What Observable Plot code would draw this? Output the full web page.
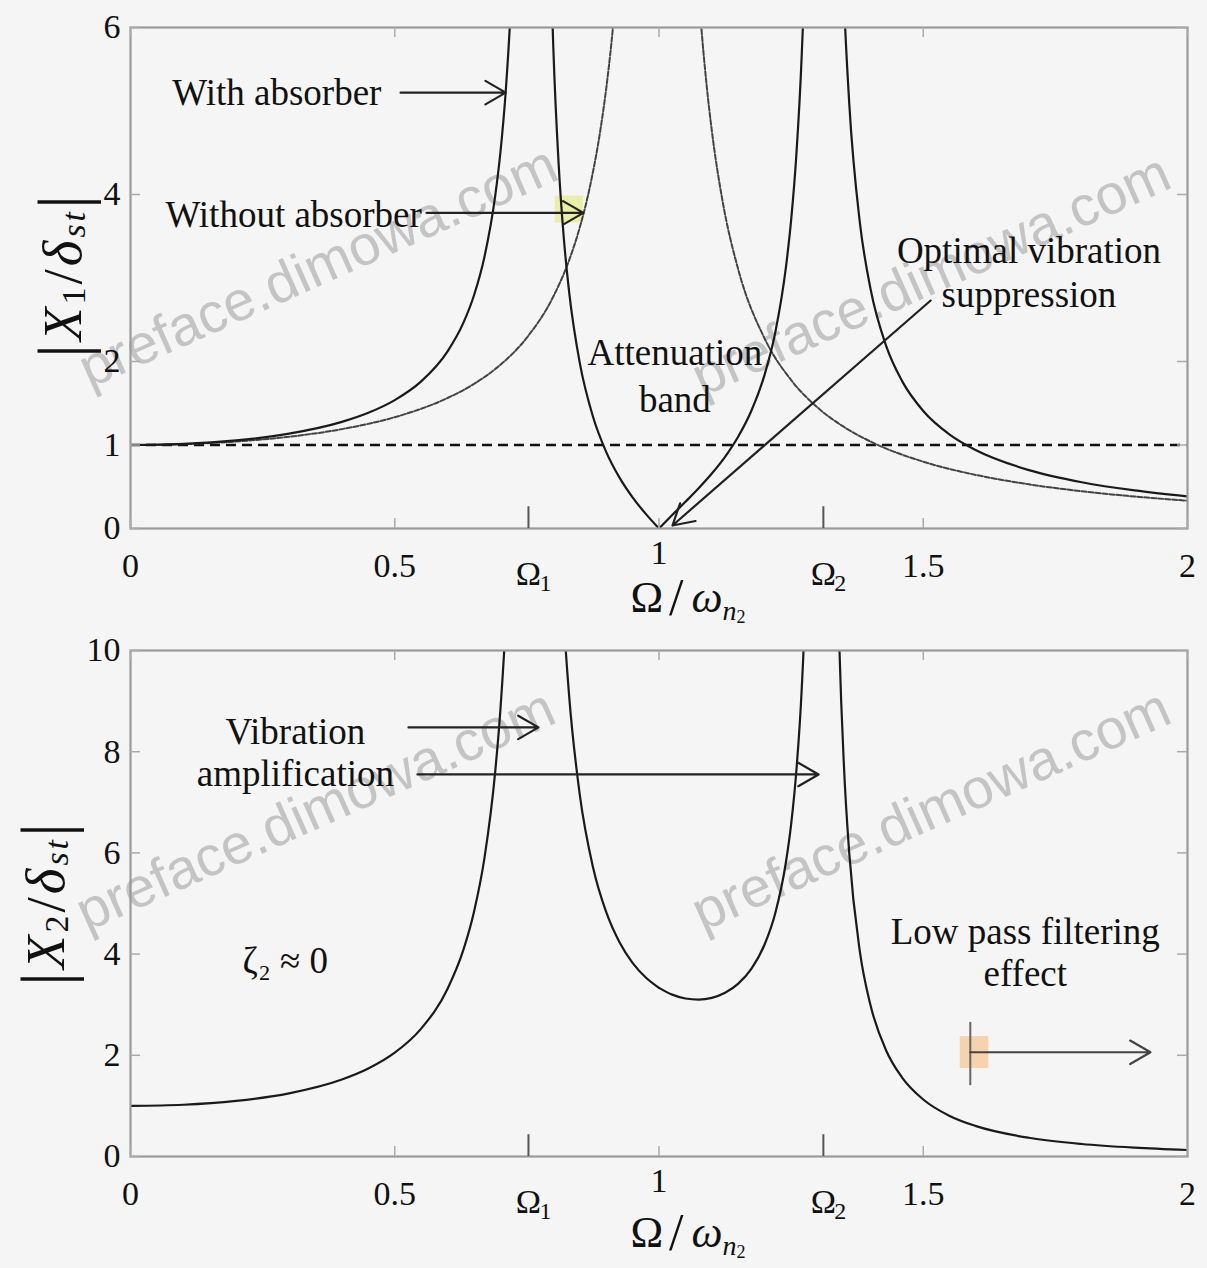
<!DOCTYPE html>
<html><head><meta charset="utf-8">
<script src="https://cdn.jsdelivr.net/npm/d3@7"></script>
<script src="https://cdn.jsdelivr.net/npm/@observablehq/plot@0.6"></script>
<style>
html,body{margin:0;padding:0;background:#f5f5f5;}
#chart svg{display:block;}
</style></head><body><div id="chart"></div>
<script>
// ---------- data ----------
// frequency ratio samples (Ω/ωn2) for the three branches of the absorber response
const xLeft  = [0, 0.1, 0.2, 0.3, 0.4, 0.45, 0.5, 0.55, 0.6, 0.63, 0.65, 0.67, 0.69, 0.70, 0.71, 0.72, 0.73, 0.74];
const xMidA  = [0.78, 0.79, 0.80, 0.81, 0.82, 0.83, 0.85, 0.875, 0.9, 0.925, 0.95, 0.975, 1.0];
const xMidB  = [1.0, 1.025, 1.05, 1.075, 1.1, 1.125, 1.15, 1.175, 1.2, 1.22, 1.24, 1.25, 1.26, 1.27, 1.28, 1.29];
const xRight = [1.33, 1.34, 1.35, 1.36, 1.38, 1.40, 1.43, 1.46, 1.5, 1.55, 1.6, 1.7, 1.8, 1.9, 2.0];

// |X1/δst| with absorber
const x1Left  = [1, 1.013, 1.055, 1.136, 1.277, 1.386, 1.538, 1.762, 2.122, 2.465, 2.793, 3.260, 3.980, 4.509, 5.237, 6.305, 8.01, 11.2];
const x1MidA  = [13.42, 8.18, 5.77, 4.378, 3.470, 2.831, 1.986, 1.341, 0.918, 0.612, 0.373, 0.175, 0];
const x1MidB  = [0, 0.162, 0.320, 0.483, 0.659, 0.859, 1.102, 1.413, 1.846, 2.348, 3.121, 3.692, 4.485, 5.66, 7.603, 11.41];
const x1Right = [12.70, 8.437, 6.339, 5.089, 3.667, 2.878, 2.184, 1.765, 1.408, 1.125, 0.937, 0.699, 0.554, 0.456, 0.385];

// |X1/δst| without absorber
const xNoL = [0, 0.1, 0.2, 0.3, 0.4, 0.5, 0.55, 0.6, 0.65, 0.7, 0.75, 0.8, 0.83, 0.85, 0.87, 0.89, 0.9, 0.91, 0.92, 0.93];
const noL  = [1, 1.010, 1.042, 1.099, 1.190, 1.333, 1.434, 1.563, 1.732, 1.961, 2.286, 2.778, 3.214, 3.604, 4.114, 4.810, 5.263, 5.817, 6.510, 7.40];
const xNoR = [1.07, 1.08, 1.09, 1.1, 1.12, 1.15, 1.2, 1.25, 1.3, 1.35, 1.4, 1.5, 1.6, 1.7, 1.8, 1.9, 2.0];
const noR  = [6.901, 6.010, 5.316, 4.762, 3.931, 3.101, 2.273, 1.778, 1.449, 1.216, 1.042, 0.8, 0.641, 0.529, 0.446, 0.383, 0.333];

// |X2/δst|
const x2Left  = [1, 1.023, 1.099, 1.248, 1.521, 1.738, 2.051, 2.527, 3.316, 4.087, 4.837, 5.916, 7.596, 8.842, 10.56, 13.09, 17.15, 24.76];
const x2MidA  = [34.3, 21.77, 16.03, 12.73, 10.59, 9.10, 7.156, 5.722, 4.833, 4.240, 3.828, 3.537, 3.333];
const x2MidB  = [3.333, 3.199, 3.123, 3.101, 3.136, 3.235, 3.416, 3.713, 4.195, 4.808, 5.805, 6.564, 7.633, 9.23, 11.91, 17.18];
const x2Right = [16.52, 10.60, 7.707, 5.990, 4.055, 2.998, 2.091, 1.560, 1.127, 0.802, 0.600, 0.370, 0.247, 0.175, 0.128];

// ticks
const xTickValues = [0, 0.5, 1, 1.5, 2];
const xTickLabels = ["0", "0.5", "1", "1.5", "2"];
const omegaTicks  = [0.753, 1.311];
const omegaBase   = ["Ω", "Ω"];
const omegaSubs   = ["1", "2"];
const yTicksTop   = [0, 1, 2, 4, 6];
const yTicksBot   = [0, 2, 4, 6, 8, 10];
const watermark   = "preface.dimowa.com";

// ---------- helpers ----------
const serif = "Liberation Serif, Times New Roman, serif";
const W = 1207;
const pts = (xs, ys) => xs.map((x, i) => ({x, y: ys[i]}));
const xLabelMap = new Map(xTickValues.map((v, i) => [v, xTickLabels[i]]));
const omegaMap  = new Map(omegaTicks.map((v, i) => [v, omegaBase[i]]));
const omegaSubMap = new Map(omegaTicks.map((v, i) => [v, omegaSubs[i]]));
const solid = {x: "x", y: "y", curve: "monotone-x", stroke: "#1a1a1a", strokeWidth: 2.2, clip: true};
const grey  = {x: "x", y: "y", curve: "monotone-x", stroke: "#444", strokeWidth: 2, strokeDasharray: "5,2", clip: true};
const note  = {text: d => d, fontFamily: serif, fontSize: 37, fill: "#111", lineHeight: 1.2};
const arrowStyle = {stroke: "#222", strokeWidth: 2.2, headLength: 16};
const wm = {text: d => d, fontFamily: "Liberation Sans, Arial, sans-serif", fontSize: 56, fill: "#c4c4c4", rotate: -24};
const tickFont = {fontSize: 34, fontFamily: serif, fill: "#111", label: null, tickSize: 0};

function frameMarks(yTicks, ymax, tickLenY, omegaLenY) {
  const tx = 0.019;
  return [
    Plot.frame({stroke: "#9a9a9a", strokeWidth: 2.2}),
    Plot.ruleX(xTickValues, {x: d => d, y1: 0, y2: tickLenY, stroke: "#aaa", strokeWidth: 1.5}),
    Plot.ruleX(xTickValues, {x: d => d, y1: ymax, y2: ymax - tickLenY, stroke: "#aaa", strokeWidth: 1.5}),
    Plot.ruleX(omegaTicks, {x: d => d, y1: 0, y2: omegaLenY, stroke: "#555", strokeWidth: 2}),
    Plot.ruleY(yTicks, {y: d => d, x1: 0, x2: tx, stroke: "#aaa", strokeWidth: 1.5}),
    Plot.ruleY(yTicks, {y: d => d, x1: 2, x2: 2 - tx, stroke: "#aaa", strokeWidth: 1.5}),
    Plot.axisX(xTickValues.filter(d => d !== 1), {...tickFont, anchor: "bottom", tickPadding: 24, tickFormat: d => xLabelMap.get(d)}),
    Plot.axisX(xTickValues.filter(d => d === 1), {...tickFont, anchor: "bottom", tickPadding: 24, tickFormat: d => xLabelMap.get(d), dy: -13}),
    Plot.axisX(omegaTicks, {...tickFont, anchor: "bottom", tickPadding: 24, tickFormat: d => omegaMap.get(d), dy: 8}),
    Plot.text(omegaTicks, {x: d => d, y: 0, text: d => omegaSubMap.get(d), fontFamily: serif, fontSize: 24,
      fill: "#111", dx: 17, dy: 55}),
    Plot.axisY(yTicks, {...tickFont, anchor: "left", tickPadding: 10, tickFormat: d => String(d)})
  ];
}

function addYLabel(svg, cx, cy, sub) {
  const t = d3.select(svg).append("text")
    .attr("transform", `translate(${cx},${cy}) rotate(-90)`)
    .attr("text-anchor", "middle").attr("dominant-baseline", "central")
    .attr("font-family", serif).attr("font-size", 55).attr("fill", "#111")
    .attr("letter-spacing", 3);
  t.append("tspan").text("|").attr("font-size", 70);
  t.append("tspan").text("X").attr("font-style", "italic");
  t.append("tspan").text(sub).attr("font-size", 34).attr("dy", 11);
  t.append("tspan").text("/").attr("dy", -11);
  t.append("tspan").text("δ").attr("font-style", "italic");
  t.append("tspan").text("st").attr("font-style", "italic").attr("font-size", 34).attr("dy", 11);
  t.append("tspan").text("|").attr("font-size", 70).attr("dy", -11);
}

function addXLabel(svg, cx, baseline) {
  const t = d3.select(svg).append("text")
    .attr("x", cx).attr("y", baseline).attr("text-anchor", "middle")
    .attr("font-family", serif).attr("font-size", 44).attr("fill", "#111");
  t.append("tspan").text("Ω").attr("letter-spacing", 6);
  t.append("tspan").text("/").attr("font-size", 52).attr("dy", 3).attr("letter-spacing", 8);
  t.append("tspan").text("ω").attr("font-style", "italic").attr("dy", -3);
  t.append("tspan").text("n").attr("font-style", "italic").attr("font-size", 28).attr("dy", 8);
  t.append("tspan").text("2").attr("font-size", 18).attr("dy", 3);
}

// ---------- top panel ----------
const topPlot = Plot.plot({
  width: W, height: 630,
  marginLeft: 130, marginRight: 20, marginTop: 27, marginBottom: 102,
  style: {background: "#f5f5f5", fontFamily: serif},
  x: {domain: [0, 2]},
  y: {domain: [0, 6]},
  marks: [
    Plot.text([watermark], {...wm, x: 0.355, y: 3.13}),
    Plot.text([watermark], {...wm, x: 1.515, y: 3.03}),
    Plot.rect([0], {x1: 0.804, x2: 0.857, y1: 3.66, y2: 3.98, fill: "#e4ec8c", fillOpacity: 0.75}),
    Plot.ruleY([1], {stroke: "#111", strokeWidth: 2.6, strokeDasharray: "10,6"}),
    Plot.line(pts(xNoL, noL), grey),
    Plot.line(pts(xNoR, noR), grey),
    Plot.line(pts(xLeft, x1Left), solid),
    Plot.line(pts(xMidA, x1MidA), solid),
    Plot.line(pts(xMidB, x1MidB), solid),
    Plot.line(pts(xRight, x1Right), solid),
    ...frameMarks(yTicksTop, 6, 0.12, 0.26),
    Plot.text(["With absorber"], {...note, x: 0.079, y: 5.24, textAnchor: "start"}),
    Plot.arrow([0], {...arrowStyle, x1: 0.511, y1: 5.22, x2: 0.71, y2: 5.22}),
    Plot.text(["Without absorber"], {...note, x: 0.066, y: 3.78, textAnchor: "start"}),
    Plot.arrow([0], {...arrowStyle, x1: 0.56, y1: 3.78, x2: 0.857, y2: 3.78}),
    Plot.text(["Optimal vibration\nsuppression"], {...note, x: 1.70, y: 3.09}),
    Plot.arrow([0], {...arrowStyle, x1: 1.514, y1: 2.73, x2: 1.0255, y2: 0.036}),
    Plot.text(["Attenuation\nband"], {...note, x: 1.03, y: 1.86, lineHeight: 1.27})
  ]
});
addYLabel(topPlot, 62, 275, "1");
addXLabel(topPlot, 688, 612);

// ---------- bottom panel ----------
const botPlot = Plot.plot({
  width: W, height: 638,
  marginLeft: 130, marginRight: 20, marginTop: 20, marginBottom: 112,
  style: {background: "#f5f5f5", fontFamily: serif},
  x: {domain: [0, 2]},
  y: {domain: [0, 10]},
  marks: [
    Plot.text([watermark], {...wm, x: 0.35, y: 6.84}),
    Plot.text([watermark], {...wm, x: 1.515, y: 6.84}),
    Plot.rect([0], {x1: 1.57, x2: 1.624, y1: 1.74, y2: 2.37, fill: "#f6c48e", fillOpacity: 0.7}),
    Plot.line(pts(xLeft, x2Left), solid),
    Plot.line(pts(xMidA, x2MidA), solid),
    Plot.line(pts(xMidB, x2MidB), solid),
    Plot.line(pts(xRight, x2Right), solid),
    ...frameMarks(yTicksBot, 10, 0.2, 0.43),
    Plot.text(["Vibration\namplification"], {...note, x: 0.312, y: 8.0, lineHeight: 1.14}),
    Plot.arrow([0], {...arrowStyle, x1: 0.526, y1: 8.48, x2: 0.772, y2: 8.48}),
    Plot.arrow([0], {...arrowStyle, x1: 0.543, y1: 7.55, x2: 1.302, y2: 7.55}),
    Plot.text(["ζ₂ ≈ 0"], {...note, x: 0.293, y: 3.91}),
    Plot.text(["Low pass filtering\neffect"], {...note, x: 1.693, y: 4.05, lineHeight: 1.14}),
    Plot.ruleX([1.589], {x: d => d, y1: 1.40, y2: 2.65, stroke: "#666", strokeWidth: 2}),
    Plot.arrow([0], {...arrowStyle, stroke: "#444", x1: 1.589, y1: 2.06, x2: 1.930, y2: 2.06})
  ]
});
addYLabel(botPlot, 45, 273, "2");
addXLabel(botPlot, 688, 617);

document.getElementById("chart").append(topPlot, botPlot);
</script>
</body></html>
